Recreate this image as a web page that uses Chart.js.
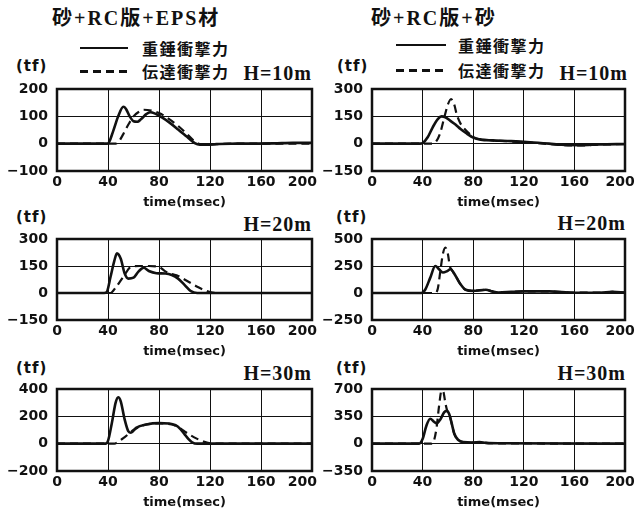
<!DOCTYPE html>
<html>
<head>
<meta charset="utf-8">
<script src="https://cdn.jsdelivr.net/npm/chart.js@4.4.1/dist/chart.umd.min.js"></script>
<style>
  body { margin: 0; background: #fff; }
  #page { position: relative; width: 642px; height: 516px; overflow: hidden; color: #111; font-family: 'DejaVu Sans', sans-serif; }
  .txt { position: absolute; line-height: 1; transform: translateY(-50%); white-space: nowrap; }
  .title { font-family: 'Liberation Serif', 'Noto Sans CJK JP', serif; font-weight: bold; font-size: 20px; letter-spacing: 2px; }
  .leg { font-family: 'Noto Sans CJK JP', sans-serif; font-weight: bold; font-size: 16px; letter-spacing: 1.5px; }
  .unit { font-weight: bold; font-size: 15px; letter-spacing: 1px; }
  .h { font-family: 'Liberation Serif', serif; font-weight: bold; font-size: 20px; letter-spacing: 1px; }
  .solid { position: absolute; height: 0; border-top: 2.5px solid #111; }
  .dash { position: absolute; height: 2.5px; background: repeating-linear-gradient(90deg, #111 0 8px, transparent 8px 13px); }
  canvas { position: absolute; }
</style>
</head>
<body>
<div id="page">
  <div class="txt title" style="left:52px;top:18px">砂+RC版+EPS材</div>
  <div class="txt title" style="left:371px;top:18px">砂+RC版+砂</div>

  <div class="solid" style="left:80px;top:47px;width:48px"></div>
  <div class="txt leg" style="left:142px;top:48px">重錘衝撃力</div>
  <div class="dash" style="left:80px;top:70px;width:50px"></div>
  <div class="txt leg" style="left:142px;top:71px">伝達衝撃力</div>

  <div class="solid" style="left:396px;top:44px;width:50px"></div>
  <div class="txt leg" style="left:458px;top:45px">重錘衝撃力</div>
  <div class="dash" style="left:396px;top:69px;width:50px"></div>
  <div class="txt leg" style="left:458px;top:70px">伝達衝撃力</div>

  <div class="txt unit" style="left:16px;top:66px">(tf)</div>
  <div class="txt unit" style="left:337px;top:66px">(tf)</div>
  <div class="txt unit" style="left:16px;top:217px">(tf)</div>
  <div class="txt unit" style="left:336px;top:217px">(tf)</div>
  <div class="txt unit" style="left:16px;top:368px">(tf)</div>
  <div class="txt unit" style="left:336px;top:368px">(tf)</div>

  <div class="txt h" style="right:330px;top:73px">H=10m</div>
  <div class="txt h" style="right:14px;top:73px">H=10m</div>
  <div class="txt h" style="right:330px;top:224px">H=20m</div>
  <div class="txt h" style="right:16px;top:223px">H=20m</div>
  <div class="txt h" style="right:330px;top:373px">H=30m</div>
  <div class="txt h" style="right:16px;top:373px">H=30m</div>
</div>

<script>
// time (msec), force (tf) pairs
const eps10Weight = [[0,0],[38,0],[40,1],[44,45],[48,100],[52,135],[54,128],[57,100],[60,82],[63,80],[66,90],[70,108],[73,115],[77,110],[82,97],[88,78],[95,52],[102,25],[108,2],[112,-4],[118,-4],[125,-1],[140,0],[170,1],[185,3],[200,3]];
const eps10Trans  = [[0,0],[46,0],[48,5],[52,35],[56,70],[60,100],[64,116],[68,124],[74,121],[80,112],[88,90],[95,65],[102,35],[107,12],[111,0],[116,-3],[122,-3],[135,0],[200,0]];

const sand10Weight = [[0,0],[38,0],[40,3],[44,35],[48,90],[52,135],[55,150],[58,145],[62,125],[66,105],[70,80],[75,55],[80,33],[86,22],[95,18],[110,14],[125,8],[140,0],[150,-6],[165,-8],[180,-4],[200,-2]];
const sand10Trans  = [[0,0],[48,0],[51,15],[54,60],[57,140],[60,215],[62.5,245],[65,215],[67,160],[70,110],[74,75],[78,48],[82,30],[88,22],[95,18],[110,12],[125,6],[140,-2],[150,-8],[165,-10],[180,-5],[200,-2]];

const eps20Weight = [[0,0],[37,0],[39,5],[42,90],[45,180],[47,220],[50,190],[53,110],[56,80],[60,85],[64,120],[68,140],[72,122],[78,110],[85,108],[90,100],[95,80],[100,45],[105,10],[110,0],[200,0]];
const eps20Trans  = [[0,0],[42,0],[46,30],[52,90],[58,145],[65,150],[72,150],[80,145],[85,120],[90,105],[95,95],[100,75],[105,55],[110,35],[115,18],[120,5],[125,0],[200,0]];

const sand20Weight = [[0,0],[39,0],[42,30],[46,140],[50,250],[53,220],[56,190],[59,200],[62,220],[66,160],[70,80],[74,30],[80,20],[90,30],[95,15],[100,5],[110,10],[120,15],[140,15],[160,3],[180,3],[190,10],[200,5]];
const sand20Trans  = [[0,0],[50,0],[52,40],[54,200],[56,360],[58,420],[60,360],[61.5,250],[63,215],[66,160],[70,80],[74,30],[80,20],[90,30],[95,15],[100,5],[110,10],[120,15],[140,15],[160,3],[180,3],[190,10],[200,5]];

const eps30Weight = [[0,0],[38,0],[40,20],[43,150],[46,300],[48,340],[50,310],[53,180],[56,90],[58,80],[62,115],[70,140],[80,150],[88,148],[93,135],[97,105],[100,70],[103,35],[106,10],[110,0],[200,0]];
const eps30Trans  = [[0,0],[45,0],[48,15],[52,40],[56,70],[60,100],[65,125],[70,140],[80,148],[90,140],[95,120],[100,90],[105,60],[110,35],[115,15],[120,3],[125,0],[200,0]];

const sand30Weight = [[0,0],[37,0],[40,60],[43,230],[46,320],[49,280],[51,260],[54,310],[57,400],[59,420],[61,380],[63,260],[65,130],[68,50],[72,20],[80,15],[85,20],[90,10],[100,5],[200,0]];
const sand30Trans  = [[0,0],[47,0],[49,40],[51,200],[53,480],[55,680],[56.5,660],[58,520],[59.5,420],[61,380],[63,260],[65,130],[68,50],[72,20],[80,15],[85,20],[90,10],[100,5],[200,0]];

const xTicksMin = 0, xTicksMax = 200, xTickStep = 40;

const panels = [
  { weight: eps10Weight,  trans: eps10Trans,  yMin: -100, yMax: 200, yStep: 100, col: 0, row: 0 },
  { weight: sand10Weight, trans: sand10Trans, yMin: -150, yMax: 300, yStep: 150, col: 1, row: 0 },
  { weight: eps20Weight,  trans: eps20Trans,  yMin: -150, yMax: 300, yStep: 150, col: 0, row: 1 },
  { weight: sand20Weight, trans: sand20Trans, yMin: -250, yMax: 500, yStep: 250, col: 1, row: 1 },
  { weight: eps30Weight,  trans: eps30Trans,  yMin: -200, yMax: 400, yStep: 200, col: 0, row: 2 },
  { weight: sand30Weight, trans: sand30Trans, yMin: -350, yMax: 700, yStep: 350, col: 1, row: 2 },
];

// plot box placement
const colLeft = [0, 321];
const plotLeft = [57, 372];
const plotRight = [312, 625];
const rowTop = [89, 239, 389];
const rowBottom = [171, 320, 471];
const INK = '#111';

const framePlugin = {
  id: 'frame',
  afterDatasetsDraw(chart) {
    const { ctx, chartArea: a } = chart;
    ctx.save();
    ctx.strokeStyle = INK;
    ctx.lineWidth = 2.5;
    ctx.strokeRect(a.left, a.top, a.right - a.left, a.bottom - a.top);
    ctx.restore();
  }
};

function toPoints(pairs) {
  return pairs.map(p => ({ x: p[0], y: p[1] }));
}

function fmt(v) {
  return v < 0 ? '\u2212' + Math.abs(v) : String(v);
}

function buildPanel(p) {
  const canvas = document.createElement('canvas');
  const top = rowTop[p.row] - 10;
  const height = rowBottom[p.row] + 39 - top;
  canvas.width = 321;
  canvas.height = height;
  canvas.style.left = colLeft[p.col] + 'px';
  canvas.style.top = top + 'px';
  document.getElementById('page').appendChild(canvas);

  const yWidth = plotLeft[p.col] - colLeft[p.col];
  const padRight = colLeft[p.col] + 321 - plotRight[p.col];
  // last time label sits a little inside the box, as in the figure
  const lastPad = p.col === 0 ? '\u2007\u2007' : '\u2007';

  new Chart(canvas.getContext('2d'), {
    type: 'line',
    data: {
      datasets: [
        {
          label: '重錘衝撃力',
          data: toPoints(p.weight),
          borderColor: INK,
          borderWidth: 2.6,
          pointRadius: 0,
          cubicInterpolationMode: 'monotone',
          fill: false,
        },
        {
          label: '伝達衝撃力',
          data: toPoints(p.trans),
          borderColor: INK,
          borderWidth: 2.2,
          borderDash: [8, 5],
          pointRadius: 0,
          cubicInterpolationMode: 'monotone',
          fill: false,
        }
      ]
    },
    options: {
      responsive: false,
      animation: false,
      events: [],
      layout: { padding: { top: 10, right: padRight, left: 0, bottom: 0 } },
      plugins: { legend: { display: false }, tooltip: { enabled: false } },
      scales: {
        x: {
          type: 'linear',
          min: xTicksMin,
          max: xTicksMax,
          ticks: {
            stepSize: xTickStep, padding: 3, color: INK, maxRotation: 0, autoSkip: false,
            font: { family: 'DejaVu Sans', weight: 'bold', size: 14 },
            callback: v => v === xTicksMax ? String(v) + lastPad : String(v)
          },
          grid: { color: INK, lineWidth: 1, drawTicks: false },
          border: { display: false },
          title: { display: true, text: 'time(msec)', color: INK, padding: 0, font: { family: 'DejaVu Sans', weight: 'bold', size: 13 } },
          afterFit(scale) { scale.height = 39; scale.paddingLeft = 0; scale.paddingRight = 0; }
        },
        y: {
          min: p.yMin,
          max: p.yMax,
          ticks: { stepSize: p.yStep, padding: 9, color: INK, font: { family: 'DejaVu Sans', weight: 'bold', size: 14 }, callback: fmt },
          grid: { color: INK, lineWidth: 1, drawTicks: false },
          border: { display: false },
          afterFit(scale) { scale.width = yWidth; scale.paddingTop = 0; scale.paddingBottom = 0; }
        }
      }
    },
    plugins: [framePlugin]
  });
}

panels.forEach(buildPanel);
</script>
</body>
</html>
